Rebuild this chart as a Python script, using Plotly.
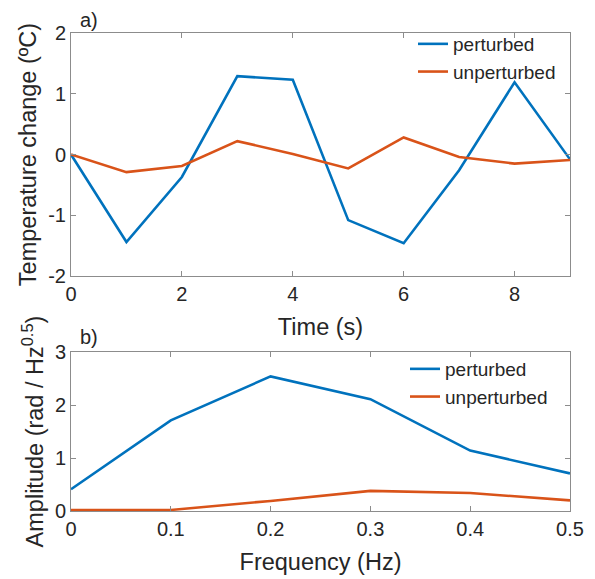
import plotly.graph_objects as go
from plotly.subplots import make_subplots

# --- data ---
time_s = [0, 1, 2, 3, 4, 5, 6, 7, 8, 9]
temp_perturbed = [0.0, -1.44, -0.37, 1.29, 1.23, -1.08, -1.46, -0.26, 1.19, -0.08]
temp_unperturbed = [0.0, -0.29, -0.19, 0.22, 0.01, -0.23, 0.28, -0.04, -0.15, -0.09]

freq_hz = [0, 0.1, 0.2, 0.3, 0.4, 0.5]
amp_perturbed = [0.41, 1.71, 2.54, 2.11, 1.14, 0.71]
amp_unperturbed = [0.02, 0.02, 0.19, 0.38, 0.34, 0.20]

top_xticks = [0, 2, 4, 6, 8]
top_yticks = [-2, -1, 0, 1, 2]
top_ytick_labels = ["-2", "-1", "0", "1", "2"]
bot_xticks = [0, 0.1, 0.2, 0.3, 0.4, 0.5]
bot_xtick_labels = ["0", "0.1", "0.2", "0.3", "0.4", "0.5"]
bot_yticks = [0, 1, 2, 3]

BLUE = "#0072BD"
ORANGE = "#D95319"
FONT = "Liberation Sans, Arial, sans-serif"
TXT = "#262626"
AXC = "#8c8c8c"

# the page body has an 8px margin; work in screen pixels and offset
OFF = 8
W, H = 595 - OFF, 579 - OFF
SL, SR, ST, SB = 71, 570, 33, 511  # plot area in screen px
L, T = SL - OFF, ST - OFF
R = W - (SR - OFF)
B = H - (SB - OFF)
PW, PH = W - L - R, H - T - B


def px_x(x):
    return (x - SL) / PW


def px_y(y):
    return (SB - y) / PH


fig = make_subplots(rows=2, cols=1)

fig.add_trace(go.Scatter(x=time_s, y=temp_perturbed, mode="lines", name="perturbed",
                         line=dict(color=BLUE, width=2.6), legend="legend"), row=1, col=1)
fig.add_trace(go.Scatter(x=time_s, y=temp_unperturbed, mode="lines", name="unperturbed",
                         line=dict(color=ORANGE, width=2.6), legend="legend"), row=1, col=1)
fig.add_trace(go.Scatter(x=freq_hz, y=amp_perturbed, mode="lines", name="perturbed",
                         line=dict(color=BLUE, width=2.6), legend="legend2"), row=2, col=1)
fig.add_trace(go.Scatter(x=freq_hz, y=amp_unperturbed, mode="lines", name="unperturbed",
                         line=dict(color=ORANGE, width=2.6), legend="legend2"), row=2, col=1)

axis_common = dict(showline=True, linecolor=AXC, linewidth=1, mirror="allticks",
                   ticks="inside", ticklen=5, tickcolor=AXC, showgrid=False, zeroline=False,
                   automargin=False,
                   tickfont=dict(family=FONT, size=20, color=TXT),
                   title_font=dict(family=FONT, size=23.5, color=TXT))

fig.update_xaxes(**axis_common)
fig.update_yaxes(**axis_common)

fig.update_xaxes(range=[0, 9], tickvals=top_xticks, domain=[0, 1],
                 title_text="Time (s)", title_standoff=14, row=1, col=1)
fig.update_yaxes(range=[-2, 2], tickvals=top_yticks, ticktext=top_ytick_labels,
                 domain=[px_y(276), 1],
                 title_text="Temperature change (ºC)", title_standoff=4, row=1, col=1)
fig.update_xaxes(range=[0, 0.5], tickvals=bot_xticks, ticktext=bot_xtick_labels, domain=[0, 1],
                 title_text="Frequency (Hz)", title_standoff=14, row=2, col=1)
fig.update_yaxes(range=[0, 3], tickvals=bot_yticks, domain=[0, px_y(352)],
                 title_text="Amplitude (rad / Hz<sup>0.5</sup>)", title_standoff=4, row=2, col=1)

legend_style = dict(font=dict(family=FONT, size=19, color=TXT), bgcolor="rgba(0,0,0,0)",
                    xanchor="left", yanchor="top", itemwidth=30, tracegroupgap=0)

fig.update_layout(
    width=W, height=H,
    margin=dict(l=L, r=R, t=T, b=B),
    paper_bgcolor="white", plot_bgcolor="white",
    showlegend=True,
    legend=dict(x=px_x(413), y=px_y(25), **legend_style),
    legend2=dict(x=px_x(405), y=px_y(350), **legend_style),
    annotations=[
        dict(text="a)", x=px_x(79), y=px_y(OFF), xref="paper", yref="paper",
             showarrow=False, xanchor="left", yanchor="top", borderpad=0,
             font=dict(family=FONT, size=20, color=TXT)),
        dict(text="b)", x=px_x(78), y=px_y(336.5), xref="paper", yref="paper",
             showarrow=False, xanchor="left", yanchor="middle",
             font=dict(family=FONT, size=20, color=TXT)),
    ],
)

fig.write_html("out.html")
